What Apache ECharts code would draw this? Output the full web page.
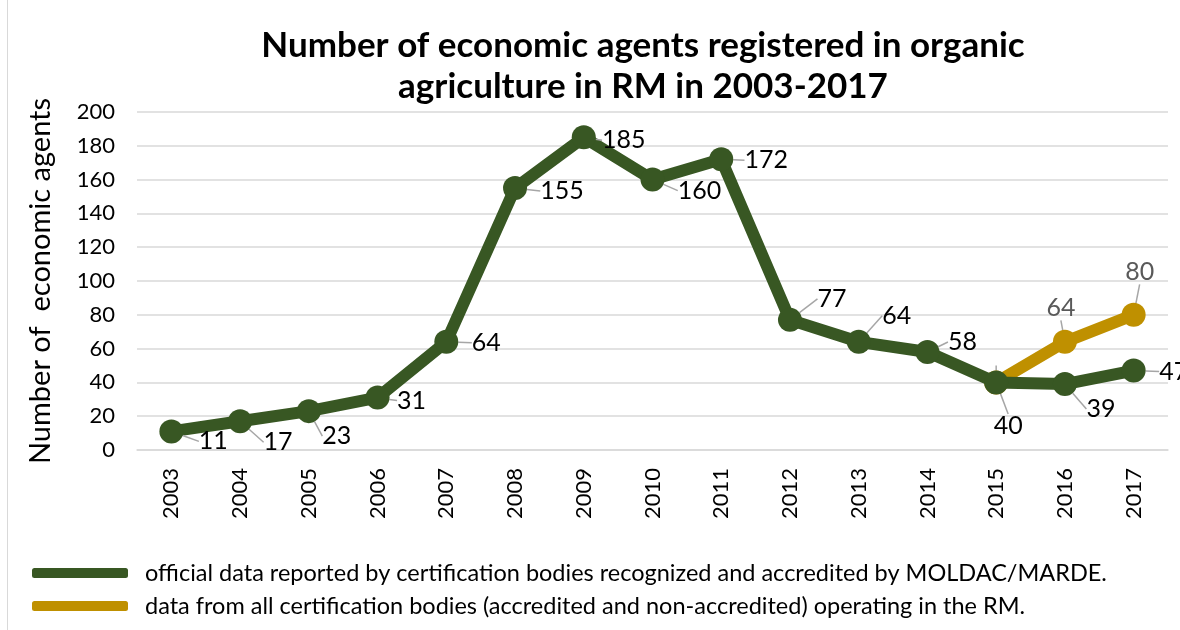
<!DOCTYPE html>
<html>
<head>
<meta charset="utf-8">
<script src="https://cdn.jsdelivr.net/npm/echarts@6/dist/echarts.min.js"></script>
<style>
  html, body { margin: 0; padding: 0; background: #fff; }
  #main { width: 1180px; height: 630px; }
</style>
</head>
<body>
<div id="main"></div>
<script>
var years = ['2003', '2004', '2005', '2006', '2007', '2008', '2009', '2010', '2011', '2012', '2013', '2014', '2015', '2016', '2017'];
var officialData = [11, 17, 23, 31, 64, 155, 185, 160, 172, 77, 64, 58, 40, 39, 47];
var allBodiesData = [null, null, null, null, null, null, null, null, null, null, null, null, 40, 64, 80];
var yTicks = [0, 20, 40, 60, 80, 100, 120, 140, 160, 180, 200];

var officialName = 'official data reported by certification bodies recognized and accredited by MOLDAC/MARDE.';
var allName = 'data from all certification bodies (accredited and non-accredited) operating in the RM.';

// label shifts (px) from each point, like Excel's dragged labels
var officialShift = [[42, 10], [38, 21], [28, 25], [34, 3], [40, 1], [47, 3], [40, 3], [47, 11], [45, 1], [42, -21], [38, -26], [35, -10], [12, 44], [36, 25], [40, 1]];
var allShift = [null, null, null, null, null, null, null, null, null, null, null, null, null, [-4, -34], [6, -43]];

var font = 'Lato, "Open Sans", sans-serif';

var myChart = echarts.init(document.getElementById('main'));

function shiftLayout(shifts) {
    return function (params) {
        var s = shifts[params.dataIndex];
        if (!s) return {};
        var r = params.labelRect;
        var cx = params.rect.x + params.rect.width / 2;
        var cy = params.rect.y + params.rect.height / 2;
        return {
            x: cx + s[0] - r.width / 2,
            y: cy + s[1] - r.height / 2,
            align: 'left',
            verticalAlign: 'top'
        };
    };
}

var option = {
    animation: false,
    textStyle: { fontFamily: font },
    title: {
        text: 'Number of economic agents registered in organic\nagriculture in RM in 2003-2017',
        left: 638,
        textAlign: 'center',
        top: 20,
        textStyle: {
            fontFamily: font,
            fontSize: 35,
            fontWeight: 'bold',
            color: '#000',
            lineHeight: 41
        }
    },
    graphic: [{
        type: 'rect',
        shape: { x: 7.5, y: -5, width: 1200, height: 650 },
        style: { fill: 'none', stroke: '#d9d9d9', lineWidth: 1 },
        silent: true
    }],
    legend: {
        orient: 'vertical',
        left: 27,
        top: 556,
        itemWidth: 96,
        itemHeight: 10,
        itemGap: 9,
        icon: 'roundRect',
        textStyle: { fontFamily: font, fontSize: 23.5, color: '#000', padding: [0, 0, 0, 12] },
        data: [officialName, allName]
    },
    grid: {
        left: 137,
        right: 12,
        top: 112,
        bottom: 180
    },
    xAxis: {
        type: 'category',
        data: years,
        boundaryGap: true,
        axisLine: { lineStyle: { color: '#d9d9d9', width: 1.5 } },
        axisTick: { show: false },
        axisLabel: {
            rotate: 90,
            fontSize: 22,
            color: '#000',
            margin: 18,
            fontFamily: font
        }
    },
    yAxis: {
        type: 'value',
        min: yTicks[0],
        max: yTicks[yTicks.length - 1],
        interval: 20,
        name: 'Number of  economic agents',
        nameLocation: 'middle',
        nameGap: 82,
        nameTextStyle: { fontSize: 29, color: '#000', fontFamily: font },
        axisLine: { show: false },
        axisTick: { show: false },
        axisLabel: { fontSize: 22, color: '#000', margin: 22, fontFamily: font },
        splitLine: { lineStyle: { color: '#d9d9d9', width: 1.5 } }
    },
    series: [{
        name: officialName,
        type: 'line',
        data: officialData,
        z: 3,
        lineStyle: { color: '#385723', width: 12 },
        itemStyle: { color: '#385723' },
        symbol: 'circle',
        symbolSize: 24,
        label: {
            show: true,
            fontSize: 25,
            color: '#000',
            fontFamily: font
        },
        labelLine: { show: true, lineStyle: { color: '#a6a6a6', width: 1.5 } },
        labelLayout: shiftLayout(officialShift)
    }, {
        name: allName,
        type: 'line',
        data: allBodiesData,
        z: 2,
        lineStyle: { color: '#bf9000', width: 12 },
        itemStyle: { color: '#bf9000' },
        symbol: 'circle',
        symbolSize: 24,
        label: {
            show: true,
            fontSize: 25,
            color: '#595959',
            fontFamily: font,
            formatter: function (p) { return p.dataIndex === 12 ? '' : p.value; }
        },
        labelLine: { show: true, lineStyle: { color: '#a6a6a6', width: 1.5 } },
        labelLayout: shiftLayout(allShift)
    }]
};

myChart.setOption(option);
</script>
</body>
</html>
